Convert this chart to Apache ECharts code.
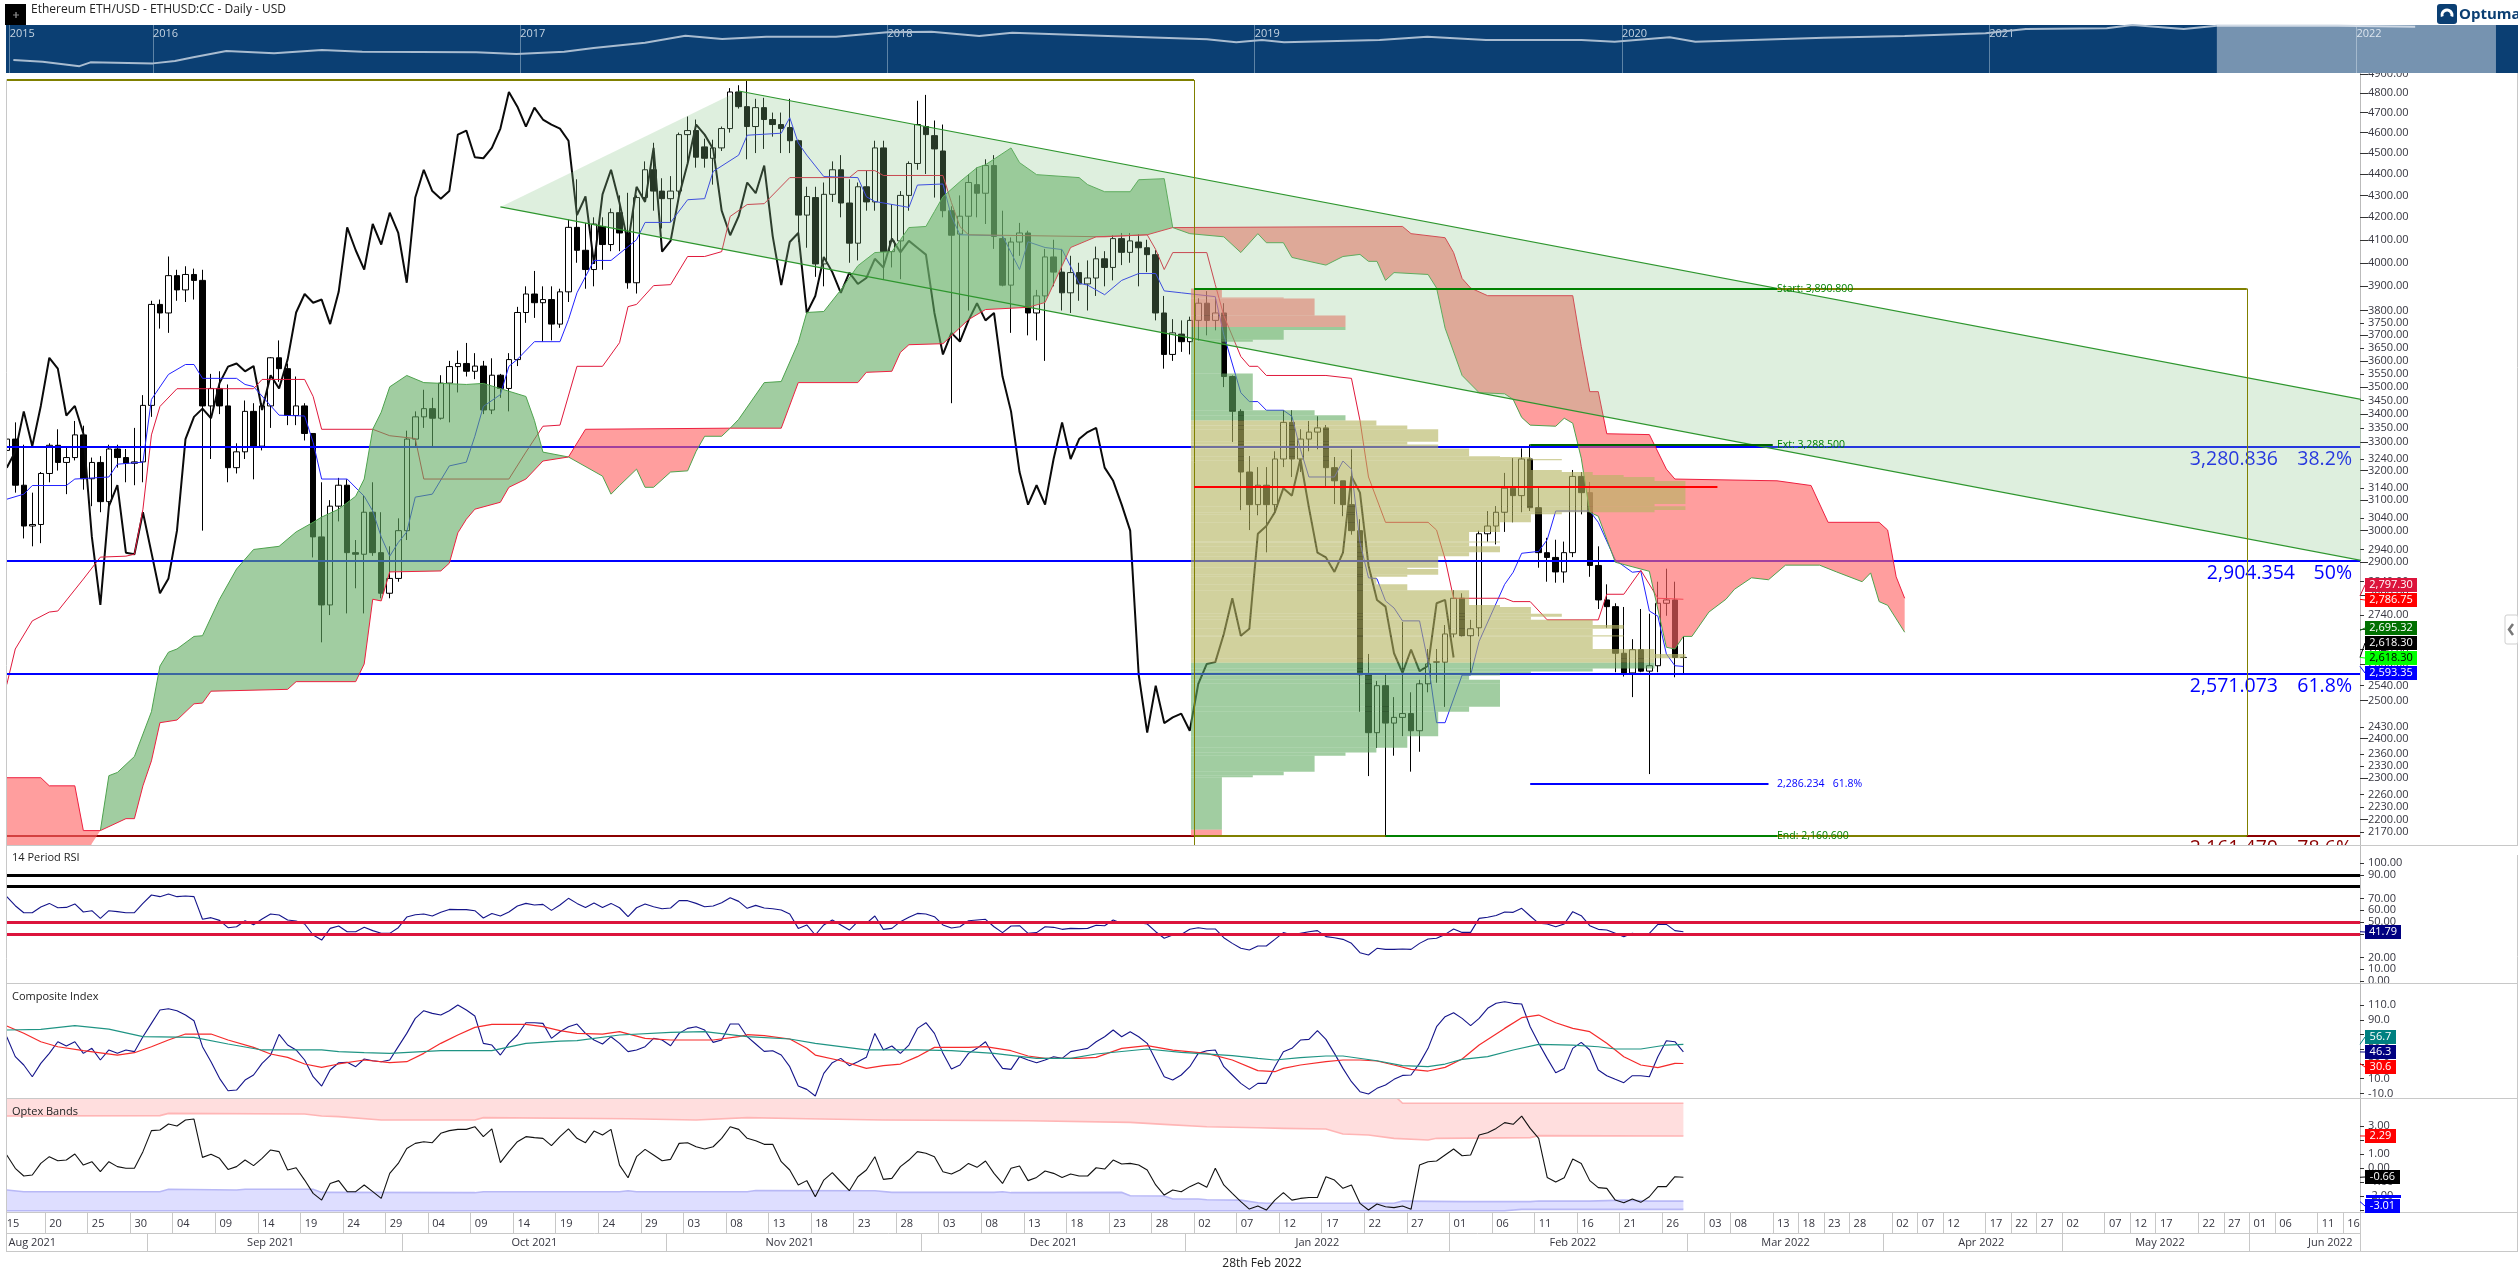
<!DOCTYPE html>
<html><head><meta charset="utf-8">
<style>html,body{margin:0;padding:0;background:#fff}#c{width:2518px;height:1284px}</style>
<script src="https://cdn.jsdelivr.net/npm/echarts@6/dist/echarts.min.js"></script>
</head><body><div id="c"></div>
<script>
// ---------- categories ----------
const futureDates=['03-01','03-02','03-03','03-04','03-07','03-08','03-09','03-10','03-11','03-12','03-13','03-16','03-17','03-18','03-21','03-22','03-23','03-24','03-25','03-28','03-29','03-30','03-31','04-01','04-02','04-05','04-06','04-07','04-08','04-11','04-12','04-13','04-14','04-15','04-16','04-17','04-20','04-21','04-22','04-25','04-26','04-27','04-28','04-29','05-02','05-03','05-04','05-05','05-06','05-07','05-10','05-11','05-12','05-13','05-16','05-17','05-18','05-19','05-20','05-21','05-22','05-25','05-26','05-27','05-30','05-31','06-01','06-02','06-03','06-06','06-07','06-08','06-09','06-10','06-11','06-14','06-15','06-16','06-17'];
const dayTicks=['2021-08-15','2021-08-20','2021-08-25','2021-08-30','2021-09-04','2021-09-09','2021-09-14','2021-09-19','2021-09-24','2021-09-29','2021-10-04','2021-10-09','2021-10-14','2021-10-19','2021-10-24','2021-10-29','2021-11-03','2021-11-08','2021-11-13','2021-11-18','2021-11-23','2021-11-28','2021-12-03','2021-12-08','2021-12-13','2021-12-18','2021-12-23','2021-12-28','2022-01-02','2022-01-07','2022-01-12','2022-01-17','2022-01-22','2022-01-27','2022-02-01','2022-02-06','2022-02-11','2022-02-16','2022-02-21','2022-02-26','2022-03-03','2022-03-08','2022-03-13','2022-03-18','2022-03-23','2022-03-28','2022-04-02','2022-04-07','2022-04-12','2022-04-17','2022-04-22','2022-04-27','2022-05-02','2022-05-07','2022-05-12','2022-05-17','2022-05-22','2022-05-27','2022-06-01','2022-06-06','2022-06-11','2022-06-16'];
const monthStarts=['2021-09-01','2021-10-01','2021-11-01','2021-12-01','2022-01-01','2022-02-01','2022-03-01','2022-04-01','2022-05-02','2022-06-01'];
const monthNames={'2021-08-18':'Aug 2021','2021-09-15':'Sep 2021','2021-10-16':'Oct 2021','2021-11-15':'Nov 2021','2021-12-16':'Dec 2021','2022-01-16':'Jan 2022','2022-02-15':'Feb 2022','2022-03-16':'Mar 2022','2022-04-16':'Apr 2022','2022-05-17':'May 2022','2022-06-14':'Jun 2022'};
const categories=[];
for(let t=Date.UTC(2021,7,15);t<=Date.UTC(2022,1,28);t+=864e5)categories.push(new Date(t).toISOString().slice(0,10));
futureDates.forEach(d=>categories.push('2022-'+d));

// ---------- price: [open, close, low, high] ----------
const candles=[[3270,3310,3170,3330],[3310,3150,3125,3370],[3150,3015,2975,3290],[3015,3020,2950,3125],[3020,3190,2960,3195],[3190,3288,3160,3295],[3288,3228,3200,3345],[3228,3245,3120,3280],[3245,3325,3235,3375],[3325,3172,3135,3358],[3172,3228,3080,3245],[3228,3095,3060,3250],[3095,3275,3060,3290],[3275,3245,3210,3290],[3245,3225,3160,3275],[3225,3230,3150,3350],[3230,3432,3160,3470],[3432,3825,3390,3840],[3825,3790,3727,3845],[3790,3945,3710,4027],[3945,3885,3840,3970],[3885,3950,3835,3985],[3950,3925,3845,3975],[3925,3430,3000,3970],
[3430,3495,3240,3550],[3495,3430,3400,3560],[3430,3210,3160,3510],[3210,3265,3190,3295],[3265,3410,3240,3450],[3410,3285,3170,3440],[3285,3430,3270,3440],[3430,3612,3350,3615],[3612,3570,3520,3680],[3570,3395,3360,3590],[3395,3430,3360,3540],[3430,3330,3305,3440],[3330,2980,2915,3330],[2980,2770,2661,3160],[2770,3080,2740,3100],[3080,3150,3030,3175],[3150,2930,2745,3170],[2930,2925,2820,2970],[2925,3060,2745,3115],[3060,2930,2920,3160],[2930,2805,2790,3060],[2805,2850,2790,2950],[2850,3000,2840,3040],[3000,3310,2970,3340],[3310,3390,3280,3410],[3390,3420,3350,3490],[3420,3385,3285,3460],[3385,3515,3380,3545],[3515,3578,3370,3600],[3578,3590,3480,3640],[3590,3560,3540,3670],[3560,3580,3530,3630],[3580,3415,3400,3600],[3415,3545,3400,3610],[3545,3495,3460,3550],[3495,3605,3410,3630],
[3605,3792,3580,3815],[3792,3868,3750,3900],[3868,3832,3770,3965],[3832,3845,3675,3900],[3845,3745,3680,3900],[3745,3877,3730,3890],[3877,4155,3835,4190],[4155,4054,4000,4375],[4054,3971,3890,4175],[3971,4170,3900,4200],[4159,4079,3970,4200],[4079,4221,4050,4240],[4221,4130,4050,4300],[4130,3915,3890,4312],[3915,4290,3870,4300],[4290,4420,4270,4460],[4420,4320,4230,4550],[4320,4285,4150,4380],[4285,4320,4180,4390],[4320,4590,4300,4600],[4590,4610,4450,4680],[4610,4480,4430,4665],[4530,4475,4430,4570],[4475,4525,4350,4565],[4525,4620,4510,4630],[4620,4805,4600,4825],[4805,4730,4720,4840],[4730,4630,4470,4868],[4630,4725,4500,4770],[4725,4665,4520,4775],[4665,4640,4580,4700],[4640,4620,4500,4700],[4625,4560,4500,4770],[4560,4210,4090,4565],[4210,4295,4065,4340],[4290,3995,3940,4340],[3995,4305,3900,4360],[4305,4420,4270,4460],[4420,4265,4200,4490],[4265,4085,4000,4375],[4085,4340,4010,4360],[4340,4270,4230,4415],[4270,4525,4230,4560],[4525,4048,3930,4560],[4048,4095,3980,4260],[4095,4300,3930,4320],[4300,4450,4230,4460],[4450,4640,4420,4760],[4630,4590,4400,4790],[4585,4520,4290,4660],[4510,4230,4200,4640],[4230,4120,3440,4250],[4125,4205,3680,4300],[4205,4360,3800,4400],[4350,4310,4200,4430],[4310,4440,4170,4470],[4440,4115,4060,4490],[4105,3905,3900,4230],[3905,4090,3710,4110],[4090,4130,4030,4175],[4130,3790,3700,4140],[3790,3860,3680,3885],[3860,4025,3600,4060],[4025,3960,3900,4100],[3960,3873,3800,4060],[3873,3958,3790,4030],[3958,3910,3840,4000],[3910,3935,3800,4010],[3935,4017,3860,4070],[4017,3980,3900,4050],[3980,4105,3925,4120],[4105,4045,3990,4130],[4045,4095,4000,4130],[4090,4065,3900,4125],[4065,4035,3960,4100],[4035,3790,3760,4055],[3790,3625,3570,3860],[3625,3710,3600,3765],[3705,3675,3635,3760],[3675,3760,3625,3775],[3760,3830,3680,3850],[3830,3760,3700,3880],[3760,3790,3720,3850],[3790,3540,3500,3830],
[3540,3410,3300,3544],[3410,3195,3067,3418],[3195,3085,3002,3250],[3085,3150,3050,3212],[3150,3085,2931,3212],[3085,3240,3060,3267],[3240,3370,3212,3414],[3370,3240,3178,3414],[3240,3310,3195,3345],[3310,3335,3267,3375],[3335,3350,3274,3392],[3350,3210,3143,3360],[3210,3165,3087,3247],[3165,3085,3047,3165],[3085,3000,2987,3274],[3000,2570,2470,3037],[2570,2415,2305,2628],[2415,2540,2376,2553],[2540,2440,2162,2570],[2440,2455,2356,2509],[2455,2465,2406,2720],[2465,2420,2316,2522],[2420,2545,2366,2556],[2545,2600,2522,2642],[2605,2606,2548,2642],[2605,2685,2483,2711],[2685,2790,2675,2814],[2790,2680,2678,2805],[2680,2700,2575,2726],[2703,2990,2678,3000],[2990,3015,2965,3064],[3015,3060,2956,3080],[3060,3140,2996,3192],[3140,3115,3027,3243],[3115,3240,3060,3277],[3240,3075,3064,3291],[3075,2930,2883,3143],[2930,2915,2840,2977],[2915,2870,2837,2971],[2870,2930,2837,2965],[2930,3180,2916,3202],[3180,3125,3053,3195],[3125,2890,2855,3161],[2890,2785,2758,2950],[2785,2765,2703,2832],[2765,2630,2577,2775],[2630,2575,2565,2764],[2575,2640,2509,2670],[2640,2580,2577,2758],[2580,2595,2310,2744],[2595,2775,2577,2840],[2775,2785,2738,2880],[2785,2618,2563,2840],[2618,2618.3,2571,2678]];
const chikou=[3210,3265,3410,3285,3430,3612,3570,3395,3430,3330,2980,2770,3080,3150,2930,2925,3060,2930,2805,2850,3000,3310,3390,3420,3385,3515,3578,3590,3560,3580,3415,3545,3495,3605,3792,3868,3832,3845,3745,3877,4155,4054,3971,4170,4079,4221,4130,3915,4290,4420,4320,4285,4320,4590,4610,4480,4475,4525,4620,4805,4730,4630,4725,4665,4640,4620,4560,4210,4295,3995,4305,4420,4265,4085,4340,4270,4525,4048,4095,4300,4450,4640,4590,4520,4230,4120,4205,4360,4310,4440,4115,3905,4090,4130,3790,3860,4025,3960,3873,3958,3910,3935,4017,3980,4105,4045,4095,4065,4035,3790,3625,3710,3675,3760,3830,3760,3790,3540,3410,3195,3085,3150,3085,3240,3370,3240,3310,3335,3350,3210,3165,3085,3000,2570,2415,2540,2440,2455,2465,2420,2545,2600,2605,2685,2790,2680,2700,2990,3015,3060,3140,3115,3240,3075,2930,2915,2870,2930,3180,3125,2890,2785,2765,2630,2575,2640,2580,2595,2775,2785,2618];
// [bar number, value] at each turn of the line
const kijun=[[0,2543],[1,2642],[3,2723],[5,2749],[6,2752],[9,2848],[11,2916],[14,2919],[15,2925],[16,3070],[17,3325],[18,3428],[20,3494],[29,3494],[30,3529],[35,3529],[36,3465],[37,3345],[43,3345],[45,3322],[48,3312],[49,3171],[59,3171],[61,3264],[63,3356],[65,3360],[67,3579],[70,3579],[72,3671],[73,3816],[74,3825],[76,3903],[78,3907],[80,4027],[82,4027],[84,4048],[85,4204],[87,4258],[89,4262],[92,4383],[99,4383],[100,4416],[102,4416],[103,4393],[110,4393],[111,4267],[112,4158],[113,4122],[129,4113],[134,4122],[135,4057],[136,3971],[137,4044],[141,4044],[142,3907],[143,3780],[145,3617],[146,3579],[147,3579],[148,3544],[155,3544],[158,3533],[159,3377],[160,3178],[162,3027],[167,3027],[168,3002],[169,2910],[170,2790],[176,2790],[177,2780],[179,2780],[181,2726],[187,2726],[188,2802],[190,2802],[192,2875],[194,2790],[197,2787]];
const tenkan=[[0,3103],[2,3120],[3,3149],[7,3149],[8,3171],[12,3178],[13,3222],[16,3229],[17,3454],[19,3548],[21,3586],[22,3586],[23,3533],[27,3533],[28,3510],[29,3502],[32,3396],[35,3393],[36,3298],[37,3171],[40,3171],[42,3113],[43,3064],[44,2980],[45,2919],[46,2962],[47,2996],[48,3110],[50,3120],[52,3216],[54,3229],[55,3320],[56,3428],[58,3472],[59,3579],[60,3606],[62,3675],[65,3675],[66,3763],[67,3873],[69,4010],[71,4010],[74,4100],[75,4177],[78,4177],[80,4280],[82,4285],[83,4412],[86,4490],[87,4587],[91,4597],[92,4674],[93,4549],[94,4490],[96,4388],[100,4383],[101,4294],[102,4272],[106,4245],[107,4348],[110,4353],[111,4204],[112,4122],[117,4118],[118,4044],[119,3971],[120,4091],[122,4066],[124,4057],[126,3913],[127,3905],[129,3865],[131,3925],[133,3954],[135,3954],[136,3881],[138,3873],[142,3857],[143,3702],[145,3479],[146,3446],[147,3446],[148,3414],[150,3414],[151,3392],[152,3274],[153,3178],[156,3178],[157,3233],[158,3205],[159,2962],[160,2852],[161,2849],[162,2782],[163,2761],[164,2723],[166,2723],[167,2605],[168,2441],[169,2441],[171,2569],[172,2569],[173,2664],[176,2832],[177,2869],[178,2928],[180,2934],[181,2971],[182,3064],[186,3064],[187,3027],[189,2907],[191,2869],[192,2872],[193,2752],[194,2737],[195,2628],[196,2595],[197,2593]];
// Ichimoku cloud pieces
const cloudRed1Top=[[0,2301],[4,2301],[5,2281],[8,2281],[9,2174],[11,2174]];
const cloudRed1Bottom=[[0,2100],[9,2100],[10,2144],[11,2174]];
const cloudGreen1Top=[[11,2174],[12,2306],[13,2314],[15,2354],[17,2470],[18,2594],[19,2633],[20,2642],[22,2678],[23,2680],[25,2787],[27,2879],[29,2940],[32,2950],[34,2996],[36,3027],[37,3044],[39,3070],[41,3113],[42,3171],[43,3345],[44,3407],[45,3501],[47,3544],[49,3517],[54,3510],[56,3514],[61,3465],[62,3377],[63,3264],[66,3247]];
const cloudGreen1Bottom=[[11,2174],[14,2202],[15,2202],[16,2281],[17,2343],[18,2441],[20,2448],[22,2491],[23,2493],[24,2525],[33,2530],[34,2551],[41,2551],[42,2600],[43,2787],[44,2782],[45,2870],[51,2873],[52,2897],[53,2993],[54,3037],[55,3070],[58,3093],[59,3143],[61,3171],[63,3233],[66,3247]];
const cloudRed2Top=[[66,3247],[68,3345],[85,3349]];
const cloudRed2Bottom=[[66,3247],[70,3181],[71,3120],[72,3149],[74,3205],[75,3143],[76,3143],[78,3195],[80,3199],[81,3267],[82,3320],[84,3320],[85,3349]];
const cloudGreen2Top=[[85,3349],[86,3381],[89,3517],[91,3521],[93,3671],[94,3792],[96,3796],[98,3885],[100,3987],[102,4044],[104,4048],[105,4100],[106,4154],[108,4159],[109,4226],[110,4294],[112,4364],[114,4430],[115,4444],[118,4525],[119,4454],[121,4397],[126,4383],[127,4350],[129,4317],[132,4317],[133,4373],[136,4378],[137,4154]];
const cloudGreen2Bottom=[[85,3349],[91,3349],[93,3517],[100,3517],[101,3556],[104,3560],[105,3633],[106,3663],[110,3667],[113,3763],[115,3804],[120,3813],[122,3833],[124,3987],[125,4066],[128,4113],[134,4122],[137,4154]];
const cloudRed3Top=[[137,4154],[164,4159],[165,4127],[169,4109],[170,4044],[171,3933],[172,3893],[174,3861],[184,3861],[185,3656],[186,3483],[187,3483],[188,3329],[193,3326],[195,3205],[196,3171],[208,3165],[212,3149],[214,3027],[220,3027],[221,3002],[222,2855],[223,2790]];
const cloudRed3Bottom=[[137,4154],[139,4127],[143,4113],[145,4044],[147,4127],[148,4087],[150,4087],[151,4023],[153,4006],[155,3990],[157,4027],[159,4036],[160,4006],[161,4006],[162,3925],[163,3958],[167,3950],[168,3893],[169,3729],[171,3544],[173,3479],[176,3475],[177,3454],[178,3388],[179,3360],[182,3356],[183,3385],[184,3367],[185,3243],[186,3060],[187,3047],[189,2900],[193,2872],[195,2647],[196,2642],[197,2678],[198,2678],[200,2749],[202,2787],[203,2817],[205,2852],[207,2846],[209,2891],[213,2891],[215,2870],[218,2840],[219,2867],[220,2780],[221,2769],[223,2690]];
// trend channel
const channelBars=[58,86,277,277];
const channelPrices=[4247,4810,3452,2904];
// volume profile
const profileEdges=[3891,3853,3849,3780,3733,3721,3683,3675,3552,3414,3396,3377,3359,3345,3301,3291,3277,3250,3247,3240,3236,3202,3195,3185,3178,3164,3087,3080,3067,3060,3053,3027,2996,2965,2962,2950,2931,2919,2883,2879,2861,2855,2832,2814,2770,2764,2744,2735,2726,2711,2700,2681,2678,2642,2628,2616,2603,2587,2579,2574,2568,2556,2546,2483,2470,2406,2376,2364,2356,2316,2307,2302,2176,2162];
const profileVolume=[1,3,4,5,5,3,2,1,2,4,5,6,7,8,7,8,9,10,11,12,11,12,13,14,15,16,15,16,15,12,11,10,9,10,9,10,9,8,7,8,7,6,7,9,10,11,12,11,13,14,13,14,13,15,16,15,15,13,11,10,9,10,10,9,8,7,6,5,4,3,2,1,1];
const profileZoneEdges=[3733,3377,2603,2176];
// fib levels
const fibLevels=[3280.836,2904.354,2571.073,2161.47];
const fibValues=['3,280.836','2,904.354','2,571.073','2,161.470'];
const fibPercents=['38.2%','50%','61.8%','78.6%'];
const fibColors=['#0000ff','#0000ff','#0000ff','#8b0000'];
const smallLabels=[[208,3890.8,'Start: 3,890.800','#008000'],[208,3288.5,'Ext: 3,288.500','#008000'],[208,2286.234,'2,286.234   61.8%','#0000ff'],[208,2160.6,'End: 2,160.600','#008000']];
// [bar from, bar to, price from, price to, colour, width]
const drawnLines=[[0,139.5,4867,4867,'#808000',2],[139.5,139.5,4867,2140,'#808000',1],[139.5,208,3890.8,3890.8,'#008000',2],[208,263.2,3890.8,3890.8,'#808000',2],[263.2,263.2,3890.8,2162,'#808000',1],[139.5,162,2160.6,2160.6,'#808000',2],[162,208,2160.6,2160.6,'#008000',2],[208,263.2,2160.6,2160.6,'#808000',2],[179,207.5,3288.5,3288.5,'#006400',2],[179,207,2286.234,2286.234,'#0000ff',2],[139.5,201,3143,3143,'#ff0000',2]];
// RSI
const rsi=[71.5,63.8,57.9,57.9,62.7,65.8,62.1,62.4,65.3,58.5,59.6,53.1,59.6,58.8,57.9,57.9,65.8,72.9,71.5,73.7,71.5,72,71.5,52.3,53.7,51.4,45.2,46,51.1,47.7,52.5,56.8,55.9,51.7,50.8,48.3,39,34.7,44.6,46.6,41.8,41.8,45.5,42.7,40.4,40.4,45.2,54.2,56.2,56.8,55.1,58.2,60.7,60.5,60.5,59.6,53.4,57.3,55.1,58.5,63.6,65.8,64.4,65,59.9,64.4,70.1,65.8,62.4,66.1,62.4,65.8,62.1,54.5,62.1,65.3,63,61.3,61.9,68.1,68.1,65.8,63,63.6,66.4,70.6,67.5,61.6,64.1,61.9,61.3,60.2,56.8,44.6,47.5,39,47.5,51.7,47.5,43.2,50.3,48.9,55.1,43.8,44.6,50.3,54,57.3,56.8,54.5,47.5,44.9,46,51.1,51.7,52.3,46,41,46.6,46.9,40.4,41,46,45.5,43.8,44.6,44.4,44.6,47.2,46.9,51.7,48.9,50.3,49.4,48.3,41.8,36.2,39,39.5,43.8,45.2,44.1,44.1,36.7,31.9,27.7,26.3,29.7,29.7,35.3,41,39,40.4,41.8,42.7,37.6,36.7,35.3,31.9,24,22,27.7,26.8,26.8,27.1,26.8,31.9,35.6,36.2,39.5,44.1,41.2,41.2,53.1,54,55.6,58.5,58.2,61.6,55.1,48.9,48.3,46,48.3,58.8,55.4,46.9,43.8,43.2,40.4,37.6,40.4,39,40.4,48,48,42.7,41.79];
const rsiBlackLevels=[90,80];
const rsiRedLevels=[50,40];
// Composite index
const composite=[67,40,28.6,12.7,30.8,44.4,60.2,54.4,60.2,44.4,51.2,35.4,49,44.4,49,46.7,67,85.1,103.2,105,102.3,96.4,88.7,53.5,33.1,10.5,-6.3,-5.4,8.2,15,30.8,42.1,70.2,55.7,49,35.4,12.7,0,21.8,31.7,32.2,26.3,36.7,34.4,33.1,35.4,53.5,71.5,91.9,102.3,98.7,96.4,102.3,110,103.2,95.1,58,55.7,42.1,58,69.3,86,86,85.1,64.8,73.8,80.6,84.2,71.5,62.5,57.1,67,58,46.7,49,53.5,64.8,62.5,54.8,71.5,78.3,80.6,76.1,59.3,62.5,84.2,84.2,67,57.1,47.1,48,42.1,26.3,0,-4.5,-13.5,17.3,31.7,37.6,27.7,33.1,39,71.5,49,54.4,44.4,55.7,78.3,86,71.5,44.4,23.1,28.6,44.4,51.2,60.2,39.9,24,22.7,39.9,35.4,31.7,35.4,39.9,37.6,46.7,49,51.2,60.2,67,76.1,67,73.8,67,58,35.4,12.7,8.2,15,26.3,44.4,48,49,26.3,15,3.7,-4.5,3.7,3.7,26.3,46.7,51.2,62.5,63.4,75.2,63.4,44.4,24,5.9,-7.6,-10.8,-3.1,1.4,9.1,14.5,15,30.8,51.2,80.6,94.2,99.6,91.9,82,91.9,105.5,112.3,114.5,112.3,111.4,80.6,58,37.6,18.2,24,51.2,59.3,49,21.8,14.1,9.1,4.6,14.1,14.1,12.7,39.9,61.6,60.2,46.3];
const compositeFast=[[0,81.5],[2,71.6],[4,60.2],[6,53.4],[9,48],[13,42.1],[15,45.3],[17,53.4],[19,62.5],[21,70.6],[24,70.6],[26,62.5],[29,52.5],[31,43.5],[33,39],[35,30],[37,25.4],[39,30],[42,35.4],[45,31.7],[47,33.1],[49,44.4],[51,58],[53,69.3],[55,79.7],[57,83.8],[61,83.8],[63,80.6],[65,75.2],[67,71.5],[70,70.6],[72,73.8],[75,64.8],[78,62.5],[83,62.5],[86,67],[87,69.7],[89,68.4],[92,63.9],[94,51.2],[95,42.1],[98,34.4],[101,24],[103,27.7],[105,29.9],[107,39.9],[109,52.5],[113,52.5],[115,53.5],[118,48],[120,40.8],[122,37.6],[126,37.6],[128,39],[131,51.2],[134,54.8],[137,48.9],[141,44.4],[144,35.4],[147,20.9],[149,19.5],[150,24],[152,28.6],[155,33.1],[157,35.4],[159,35.4],[161,34],[163,28.6],[165,22.7],[167,20.4],[169,25.4],[171,36.7],[173,55.7],[176,78.3],[178,92.8],[180,96.4],[182,86],[184,78.3],[186,73.8],[188,58],[190,39.9],[192,28.6],[194,25],[196,30.8],[197,30.6]];
const compositeSlow=[[0,76.1],[4,77],[8,82],[12,77.4],[16,67],[22,66.1],[26,57.1],[30,49],[37,49],[39,46.7],[42,45.3],[45,44.4],[51,48],[57,48],[61,58],[65,61.1],[67,61.6],[72,69.3],[78,72.9],[82,73.8],[87,67],[92,63.9],[95,58],[101,49],[107,49],[111,48],[116,44.4],[121,37.6],[125,37.6],[128,43.5],[134,50.3],[138,45.8],[144,41.2],[147,37.6],[149,35.4],[152,38.5],[155,40.8],[157,40.8],[161,34.4],[164,27.7],[167,26.3],[169,29.9],[171,36.3],[174,39.9],[177,49],[180,56.6],[184,55.7],[187,53.4],[189,50.3],[192,50.3],[195,55.7],[197,56.7]];
// Optex bands
const optex=[.93,-.02,-.57,-.5,.33,.81,.52,.57,1,.21,.45,-.26,.45,.1,-.02,-.02,1.17,2.67,2.71,3.14,3,3.43,3.5,.76,.98,.69,-.1,.1,.57,.17,.69,1.29,1.17,-.14,.02,-.86,-1.81,-2.29,-1.1,-.9,-1.69,-1.69,-1.21,-1.69,-2.17,-.38,.33,1.4,1.76,1.88,1.81,2.48,2.67,2.76,2.76,2.95,2.24,2.79,.38,1.17,1.88,2.24,2.17,2.12,1.6,2.24,2.79,2.12,1.81,2.64,2.36,2.76,.21,-.69,.81,1.33,.93,.52,.62,1.76,1.81,1.52,1.36,1.52,2.12,2.95,2.76,2.12,1.95,1.69,1.69,.45,-.14,-1.21,-.9,-2.05,-.86,-.33,-.98,-1.62,-.62,-.14,.81,-.81,-.74,.1,.57,1.17,1.05,.81,-.26,-.43,-.14,.33,.05,.5,-.38,-1.1,-.02,.14,-.9,-.67,-.21,-.38,-.67,-.43,-.57,-.57,.02,-.07,.57,.29,.33,.21,-.14,-1.21,-1.93,-1.57,-1.69,-1.33,-1.05,-1.38,-.02,-1.21,-1.81,-2.4,-2.93,-2.71,-3,-2.29,-1.76,-2.29,-2.17,-2.1,-2.1,-.62,-.86,-1.45,-1.21,-2.52,-3,-2.57,-2.76,-2.83,-2.71,-2.95,.21,.45,.5,.93,1.36,.88,.93,2.36,2.52,2.83,3.24,3.12,3.71,2.83,2.12,-.67,-1,-.69,.64,.33,-.9,-1.4,-1.45,-2.29,-2.48,-2.21,-2.45,-2.05,-1.33,-1.33,-.62,-.66];
const optexRedTop=[[0,5.2],[163,5.2],[164,4.62],[197,4.62]];
const optexRedBottom=[[0,3.71],[18,3.74],[19,3.9],[35,3.86],[37,3.71],[39,3.67],[44,3.43],[55,3.43],[56,3.6],[73,3.52],[81,3.43],[87,3.6],[94,3.52],[103,3.43],[120,3.38],[132,3.26],[136,3.12],[141,2.95],[147,2.88],[150,2.83],[155,2.79],[157,2.43],[160,2.36],[163,2.12],[167,2],[168,2.12],[179,2.17],[180,2.31],[197,2.29]];
const optexBlueTop=[[0,-1.57],[2,-1.69],[18,-1.69],[19,-1.52],[27,-1.57],[28,-1.52],[36,-1.52],[37,-1.74],[55,-1.76],[56,-1.69],[72,-1.69],[73,-1.62],[74,-1.69],[87,-1.69],[88,-1.6],[102,-1.62],[104,-1.74],[116,-1.74],[117,-1.69],[118,-1.76],[131,-1.74],[132,-1.98],[136,-2],[137,-2.21],[140,-2.21],[141,-2.26],[145,-2.29],[147,-2.48],[148,-2.52],[150,-2.52],[163,-2.52],[164,-2.36],[171,-2.4],[179,-2.4],[180,-2.36],[186,-2.36],[190,-2.29],[193,-2.36],[197,-2.36]];
const optexBlueBottom=[[0,-3.05],[176,-3.05],[178,-2.95],[197,-2.95]];
// navigator: [year, price]
const history=[[2015.62,1],[2015.7,.66],[2015.8,.23],[2015.83,.58],[2016,.45],[2016.06,.78],[2016.11,1.93],[2016.2,8.8],[2016.33,5.1],[2016.46,11.3],[2016.57,7.5],[2016.88,6.5],[2016.99,4.3],[2017.12,7.5],[2017.2,18],[2017.34,66],[2017.45,360],[2017.55,162],[2017.67,283],[2017.86,283],[2018,818],[2018.12,950],[2018.25,336],[2018.34,746],[2018.6,336],[2018.87,151],[2018.95,73],[2019.02,127],[2019.08,73],[2019.34,127],[2019.47,283],[2019.63,127],[2019.89,127],[2019.98,84],[2020.13,243],[2020.2,84],[2020.55,221],[2020.77,336],[2020.99,643],[2021.1,1820],[2021.32,2160],[2021.39,4800],[2021.53,1820],[2021.62,4040],[2021.95,4040],[2022.16,3190]];
const navYears=[2015.61,2016,2017,2018,2019,2020,2021,2022];
const navWindow=[2021.62,2022.38];
// axis ticks
const priceTicksLong=[4900,4800,4700,4600,4500,4400,4300,4200,4100,4000,3900,3800,3700,3600,3500,3400,3300,3200,3100,3000,2900,2800,2700,2600,2500,2400,2300,2200];
const priceTicksShort=[3750,3650,3550,3450,3350,3240,3140,3040,2940,2840,2740,2640,2540,2430,2360,2330,2260,2230,2170,2140];
const rsiTicks=[100,90,70,60,50,40,20,10,0];
const compositeTicks=[110,90,70,50,30,10,-10];
const optexTicks=[3,2,1,0,-1,-2,-3];
// value badges on the axis: text, value, value-axis, badge centre, fill, text colour, width
const priceBadges=[['2,797.30',2797.3,0,585,'#dc143c','#fff',52],['2,786.75',2786.75,0,600,'#ff0000','#fff',52],['2,695.32',2695.32,0,628,'#007000','#fff',52],['2,618.30',2618.3,0,643,'#000','#fff',52],['2,618.30',2618.3,0,658,'#00ff00','#000',52],['2,593.35',2593.35,0,673,'#0000ff','#fff',52],['41.79',41.79,2,932,'#000080','#fff',36],['56.7',56.7,3,1037,'#008080','#fff',31],['46.3',46.3,3,1052,'#000080','#fff',31],['30.6',30.6,3,1067,'#ff0000','#fff',31],['2.29',2.29,4,1136,'#ff0000','#fff',31],['-0.66',-0.66,4,1177,'#000','#fff',35],['-3.01',-2.4,4,1206,'#0000ff','#fff',35]];

const FONT='"Open Sans"';
const TXT='#35353f';
const LINEGRAY='#c8c8c8';
const chart=echarts.init(document.getElementById('c'),null,{renderer:'canvas',width:2518,height:1284});
const dayTickSet=new Set(dayTicks), monthStartSet=new Set(monthStarts);

function barX(api,b){const f=Math.floor(b),x=api.coord([f,3000])[0];return f===b?x:x+(b-f)*(api.coord([f+1,3000])[0]-x);}
function polySeries(name,polys,xi,yi,z){
  return {type:'custom',name,xAxisIndex:xi,yAxisIndex:yi,z,clip:true,silent:true,data:polys.map((p,i)=>[i]),
    encode:{x:-1,y:-1},
    renderItem(params,api){
      const p=polys[params.dataIndex];
      const t=p.top.map(v=>api.coord(v)), b=p.bottom.map(v=>api.coord(v));
      const kids=[{type:'polygon',shape:{points:t.concat(b.slice().reverse())},style:{fill:p.fill}}];
      if(p.topStroke)kids.push({type:'polyline',shape:{points:t},style:{stroke:p.topStroke,lineWidth:p.width||1,fill:null}});
      if(p.bottomStroke)kids.push({type:'polyline',shape:{points:b},style:{stroke:p.bottomStroke,lineWidth:p.width||1,fill:null}});
      return {type:'group',children:kids};
    }};
}
const CG='rgba(98,172,98,0.6)',CR='rgba(255,101,101,0.63)',OL='rgba(180,180,97,0.62)',EG='#4ea34e',ER='#ee2040';
const yAxisCommon={position:'right',splitLine:{show:false},axisLine:{show:true,onZero:false,lineStyle:{color:'#bbbbbb'}},scale:false};
const labelStyle={color:TXT,fontFamily:FONT,fontSize:11,margin:8};

const series=[
 {type:'candlestick',name:'ETH/USD',xAxisIndex:0,yAxisIndex:0,z:2,barWidth:6,data:candles,silent:true,
  itemStyle:{color:'#ffffff',color0:'#000000',borderColor:'#000000',borderColor0:'#000000',borderColorDoji:'#000000',borderWidth:1}},
 {type:'line',name:'Chikou',xAxisIndex:0,yAxisIndex:0,z:3,data:chikou,showSymbol:false,silent:true,lineStyle:{color:'#0a0a0a',width:2}},
 {type:'line',name:'Tenkan',xAxisIndex:0,yAxisIndex:0,z:3,data:tenkan,showSymbol:false,silent:true,lineStyle:{color:'#2222ff',width:1}},
 {type:'line',name:'Kijun',xAxisIndex:0,yAxisIndex:0,z:3,data:kijun,showSymbol:false,silent:true,lineStyle:{color:'#e0193c',width:1}},
 {type:'custom',name:'Fib',xAxisIndex:0,yAxisIndex:0,z:4,clip:true,silent:true,data:fibLevels.map((v,i)=>[i,v]),
  renderItem(params,api){
    const i=params.dataIndex,y=Math.round(api.coord([0,fibLevels[i]])[1]),cs=params.coordSys,R=cs.x+cs.width,L=cs.x;
    const numRight=R-(fibPercents[i]==='50%'?65:82);
    const font='19.5px '+FONT;
    return {type:'group',children:[
      {type:'line',shape:{x1:L,y1:y,x2:R,y2:y},style:{stroke:fibColors[i],lineWidth:2}},
      {type:'text',style:{x:numRight,y:y+12,text:fibValues[i],fill:fibColors[i],font,textAlign:'right',textVerticalAlign:'middle'}},
      {type:'text',style:{x:R-8,y:y+12,text:fibPercents[i],fill:fibColors[i],font,textAlign:'right',textVerticalAlign:'middle'}}
    ]};
  }},
 polySeries('Cloud',[
   {top:cloudRed1Top,bottom:cloudRed1Bottom,fill:CR,topStroke:ER},
   {top:cloudGreen1Top,bottom:cloudGreen1Bottom,fill:CG,topStroke:EG,bottomStroke:ER},
   {top:cloudRed2Top,bottom:cloudRed2Bottom,fill:CR,topStroke:ER,bottomStroke:EG},
   {top:cloudGreen2Top,bottom:cloudGreen2Bottom,fill:CG,topStroke:EG,bottomStroke:ER},
   {top:cloudRed3Top,bottom:cloudRed3Bottom,fill:CR,topStroke:ER,bottomStroke:EG}
 ],0,0,5),
 {type:'custom',name:'Volume profile',xAxisIndex:1,yAxisIndex:0,z:5,clip:true,silent:true,data:profileVolume.map((v,i)=>[v,profileEdges[i],profileEdges[i+1]]),
  encode:{x:0,y:[1,2]},
  renderItem(params,api){
    const v=api.value(0),t=api.value(1),b=api.value(2),a=api.coord([0,t]),c=api.coord([v,b]);
    const z=profileZoneEdges;
    const fill=t>z[0]?CR:t>z[1]?CG:t>z[2]?OL:t>z[3]?CG:CR;
    return {type:'rect',shape:{x:a[0],y:a[1],width:c[0]-a[0],height:c[1]-a[1]},style:{fill}};
  }},
 {type:'custom',name:'Channel',xAxisIndex:0,yAxisIndex:0,z:6,clip:true,silent:true,data:[[0]],encode:{x:-1,y:-1},
  renderItem(params,api){
    const p=channelBars.map((b,i)=>api.coord([b,channelPrices[i]]));
    return {type:'group',children:[
      {type:'polygon',shape:{points:p},style:{fill:'rgba(137,198,137,0.28)'}},
      {type:'line',shape:{x1:p[1][0],y1:p[1][1],x2:p[2][0],y2:p[2][1]},style:{stroke:'#2e962e',lineWidth:1.2}},
      {type:'line',shape:{x1:p[0][0],y1:p[0][1],x2:p[3][0],y2:p[3][1]},style:{stroke:'#2e962e',lineWidth:1.2}}
    ]};
  }},
 {type:'custom',name:'Drawn lines',xAxisIndex:0,yAxisIndex:0,z:7,clip:true,silent:true,data:drawnLines.map((v,i)=>[i]),encode:{x:-1,y:-1},
  renderItem(params,api){
    const d=drawnLines[params.dataIndex];
    const snap=d[5]%2?.5:0;
    let y1=api.coord([0,d[2]])[1],y2=api.coord([0,d[3]])[1],x1=barX(api,d[0]),x2=barX(api,d[1]);
    if(d[2]===d[3]){y1=y2=Math.round(y1)+snap;}
    if(d[0]===d[1]){x1=x2=Math.round(x1)+snap;}
    return {type:'line',shape:{x1,y1,x2,y2},style:{stroke:d[4],lineWidth:d[5]}};
  }},
 {type:'custom',name:'Small labels',xAxisIndex:0,yAxisIndex:0,z:8,clip:true,silent:true,data:smallLabels.map((v,i)=>[i]),encode:{x:-1,y:-1},
  renderItem(params,api){
    const d=smallLabels[params.dataIndex],p=api.coord([d[0],d[1]]);
    return {type:'text',style:{x:p[0],y:p[1],text:d[2],fill:d[3],font:'10.5px '+FONT,textAlign:'left',textVerticalAlign:'middle'}};
  }},
 {type:'line',name:'RSI',xAxisIndex:2,yAxisIndex:2,z:3,data:rsi,showSymbol:false,silent:true,lineStyle:{color:'#14148a',width:1.1},
  markLine:{silent:true,symbol:'none',label:{show:false},animation:false,
    data:rsiBlackLevels.map(v=>({yAxis:v,lineStyle:{color:'#000',width:3,type:'solid'}})).concat(rsiRedLevels.map(v=>({yAxis:v,lineStyle:{color:'#dc143c',width:3,type:'solid'}})))}},
 {type:'line',name:'Composite',xAxisIndex:3,yAxisIndex:3,z:3,data:composite,showSymbol:false,silent:true,lineStyle:{color:'#14148a',width:1.1}},
 {type:'line',name:'Composite fast',xAxisIndex:3,yAxisIndex:3,z:3,data:compositeFast,showSymbol:false,silent:true,lineStyle:{color:'#f52b2b',width:1.2}},
 {type:'line',name:'Composite slow',xAxisIndex:3,yAxisIndex:3,z:3,data:compositeSlow,showSymbol:false,silent:true,lineStyle:{color:'#1f9484',width:1.2}},
 polySeries('Optex bands',[
   {top:optexRedTop,bottom:optexRedBottom,fill:'#ffdede',bottomStroke:'#ffb5b5',topStroke:'#ffb5b5',width:1.6},
   {top:optexBlueTop,bottom:optexBlueBottom,fill:'#dedeff',topStroke:'#b8b8f6',bottomStroke:'#b8b8f6',width:1.6}
 ],4,4,2),
 {type:'line',name:'Optex',xAxisIndex:4,yAxisIndex:4,z:3,data:optex,showSymbol:false,silent:true,lineStyle:{color:'#111',width:1.1}},
 {type:'line',name:'Months',xAxisIndex:5,yAxisIndex:4,data:[],silent:true},
 {type:'line',name:'Short ticks',xAxisIndex:0,yAxisIndex:1,data:[],silent:true},
 {type:'line',name:'History',xAxisIndex:6,yAxisIndex:5,z:60,data:history,showSymbol:false,silent:true,lineStyle:{color:'#a9bcd0',width:2}},
 {type:'custom',name:'Window',xAxisIndex:6,yAxisIndex:5,z:61,clip:true,silent:true,data:[[0]],encode:{x:-1,y:-1},
  renderItem(params,api){
    const a=api.coord([navWindow[0],10])[0],b=api.coord([navWindow[1],10])[0],cs=params.coordSys;
    return {type:'rect',shape:{x:a,y:cs.y,width:b-a,height:cs.height},style:{fill:'rgba(255,255,255,0.44)'}};
  }}
];

const cat={type:'category',data:categories,boundaryGap:true};
const hiddenCat=g=>({...cat,gridIndex:g,axisLine:{show:false,onZero:false},axisTick:{show:false},axisLabel:{show:false},splitLine:{show:false}});
const option={
 animation:false,textStyle:{fontFamily:FONT},backgroundColor:'#fff',
 grid:[
  {left:2.5,width:2357.5,top:73,height:772},
  {left:2.5,width:2357.5,top:845,height:138},
  {left:2.5,width:2357.5,top:983,height:115},
  {left:2.5,width:2357.5,top:1098,height:114},
  {left:6,width:2512,top:25,height:48}
 ],
 xAxis:[
  hiddenCat(0),
  {type:'value',gridIndex:0,min:-38.46,max:37.83,show:false},
  hiddenCat(1),
  hiddenCat(2),
  {...cat,gridIndex:3,position:'bottom',axisLine:{show:false,onZero:false},splitLine:{show:false},
    axisTick:{show:true,length:21,interval:(i,v)=>dayTickSet.has(v),lineStyle:{color:LINEGRAY}},
    axisLabel:{show:true,interval:(i,v)=>dayTickSet.has(v),formatter:v=>v.slice(8),align:'left',margin:6,color:TXT,fontFamily:FONT,fontSize:11,hideOverlap:false}},
  {...cat,gridIndex:3,position:'bottom',offset:21,axisLine:{show:false,onZero:false},splitLine:{show:false},
    axisTick:{show:true,length:18,interval:(i,v)=>monthStartSet.has(v),lineStyle:{color:LINEGRAY}},
    axisLabel:{show:true,interval:(i,v)=>v in monthNames,formatter:v=>monthNames[v]||'',margin:4,color:TXT,fontFamily:FONT,fontSize:11,hideOverlap:false}},
  {type:'value',gridIndex:4,min:2015.6,max:2022.44,position:'top',z:60,
    axisLine:{show:false,onZero:false},axisTick:{show:false,customValues:navYears},
    splitLine:{show:true,lineStyle:{color:'#5d83a6',width:1}},
    axisLabel:{show:true,inside:true,customValues:navYears,formatter:v=>String(Math.floor(v)),align:'left',margin:3,color:'#c6d4e2',fontFamily:FONT,fontSize:11,showMinLabel:true,showMaxLabel:true}}
 ],
 yAxis:[
  {...yAxisCommon,type:'log',gridIndex:0,min:2140.6,max:4904,
    axisTick:{show:true,length:8,customValues:priceTicksLong,lineStyle:{color:'#333'}},
    axisLabel:{...labelStyle,customValues:priceTicksLong.concat(priceTicksShort).sort((a,b)=>b-a),formatter:v=>Number(v).toFixed(2)}},
  {...yAxisCommon,type:'log',gridIndex:0,min:2140.6,max:4904,axisLine:{show:false,onZero:false},
    axisTick:{show:true,length:4,customValues:priceTicksShort,lineStyle:{color:'#333'}},axisLabel:{show:false}},
  {...yAxisCommon,type:'value',gridIndex:1,min:-1.7,max:115.3,
    axisTick:{show:true,length:4,customValues:rsiTicks,lineStyle:{color:'#333'}},
    axisLabel:{...labelStyle,customValues:rsiTicks,formatter:v=>Number(v).toFixed(2)}},
  {...yAxisCommon,type:'value',gridIndex:2,min:-16.2,max:139.9,
    axisTick:{show:true,length:4,customValues:compositeTicks,lineStyle:{color:'#333'}},
    axisLabel:{...labelStyle,customValues:compositeTicks,formatter:v=>Number(v).toFixed(1)}},
  {...yAxisCommon,type:'value',gridIndex:3,min:-3.14,max:5,
    axisTick:{show:true,length:4,customValues:optexTicks,lineStyle:{color:'#333'}},
    axisLabel:{...labelStyle,customValues:optexTicks,formatter:v=>Number(v).toFixed(2)}},
  {type:'log',gridIndex:4,min:.044,max:4800,show:false}
 ],
 series,
 graphic:{elements:buildGraphics()}
};
function hline(x1,x2,y,color,z){return {type:'line',z:z||30,silent:true,shape:{x1,y1:y+.5,x2,y2:y+.5},style:{stroke:color||LINEGRAY,lineWidth:1}};}
function vline(x,y1,y2,color,z){return {type:'line',z:z||30,silent:true,shape:{x1:x+.5,y1,x2:x+.5,y2},style:{stroke:color||LINEGRAY,lineWidth:1}};}
function txt(text,x,y,font,fill,align,z){return {type:'text',z:z||70,silent:true,style:{text,x,y,font,fill,textAlign:align||'left',textVerticalAlign:'middle'}};}
function buildGraphics(){
  const g=[];
  g.push({type:'rect',z:40,silent:true,shape:{x:0,y:0,width:6,height:1284},style:{fill:'#fff'}});
  g.push({type:'rect',z:40,silent:true,shape:{x:2361,y:846,width:157,height:9},style:{fill:'#fff'}});
  g.push({type:'rect',z:50,silent:true,shape:{x:6,y:25,width:2512,height:48},style:{fill:'#0b3f73'}});
  g.push(vline(6,80,1251));
  [845,983,1098,1212,1251].forEach(y=>g.push(hline(6,2518,y)));
  g.push(hline(6,2360,1233));
  g.push(vline(2517,73,1251));
  g.push({type:'rect',z:70,silent:true,shape:{x:5,y:4,width:21,height:21},style:{fill:'#000'}});
  g.push({type:'line',z:71,silent:true,shape:{x1:16,y1:12,x2:16,y2:18},style:{stroke:'#bbb',lineWidth:1}});
  g.push({type:'line',z:71,silent:true,shape:{x1:13,y1:15,x2:19,y2:15},style:{stroke:'#888',lineWidth:1}});
  g.push(txt('Ethereum ETH/USD - ETHUSD:CC - Daily - USD',31,10,'12px '+FONT,'#222'));
  g.push({type:'rect',z:70,silent:true,shape:{x:2437,y:4,width:20,height:20,r:3},style:{fill:'#0b3f73'}});
  g.push({type:'arc',z:71,silent:true,shape:{cx:2447,cy:15,r:5,startAngle:Math.PI*0.9,endAngle:Math.PI*2.1},style:{stroke:'#fff',fill:null,lineWidth:3}});
  g.push(txt('Optuma',2459,15,'bold 15px '+FONT,'#0b3f73'));
  g.push(txt('14 Period RSI',12,858,'11px '+FONT,'#222'));
  g.push(txt('Composite Index',12,997,'11px '+FONT,'#222'));
  g.push(txt('Optex Bands',12,1112,'11px '+FONT,'#222'));
  g.push(txt('28th Feb 2022',1262,1264,'12px '+FONT,'#222','center'));
  priceBadges.forEach(b=>{
    g.push({type:'rect',z:70,silent:true,shape:{x:2365,y:b[3]-7,width:b[6],height:14},style:{fill:b[4]}});
    g.push(txt(b[0],2365+b[6]/2,b[3],'11px '+FONT,b[5],'center',71));
  });
  g.push({type:'rect',z:70,silent:true,shape:{x:2366,y:1195,width:35,height:3},style:{fill:'#0000ff'}});
  g.push({type:'rect',z:70,silent:true,shape:{x:2505,y:615,width:13,height:29,r:2},style:{fill:'#fff',stroke:'#cfcfcf',lineWidth:1}});
  g.push({type:'polyline',z:71,silent:true,shape:{points:[[2513,624],[2509,629.5],[2513,635]]},style:{stroke:'#777',fill:null,lineWidth:2.5}});
  return g;
}
chart.setOption(option);
priceBadges.forEach(b=>{
  const y=chart.convertToPixel({yAxisIndex:b[2]},b[1]);
  option.graphic.elements.push({type:'line',z:60,silent:true,shape:{x1:2360,y1:y,x2:2365,y2:b[3]},style:{stroke:b[4],lineWidth:1}});
});
chart.setOption({graphic:option.graphic});
</script>
</body></html>
